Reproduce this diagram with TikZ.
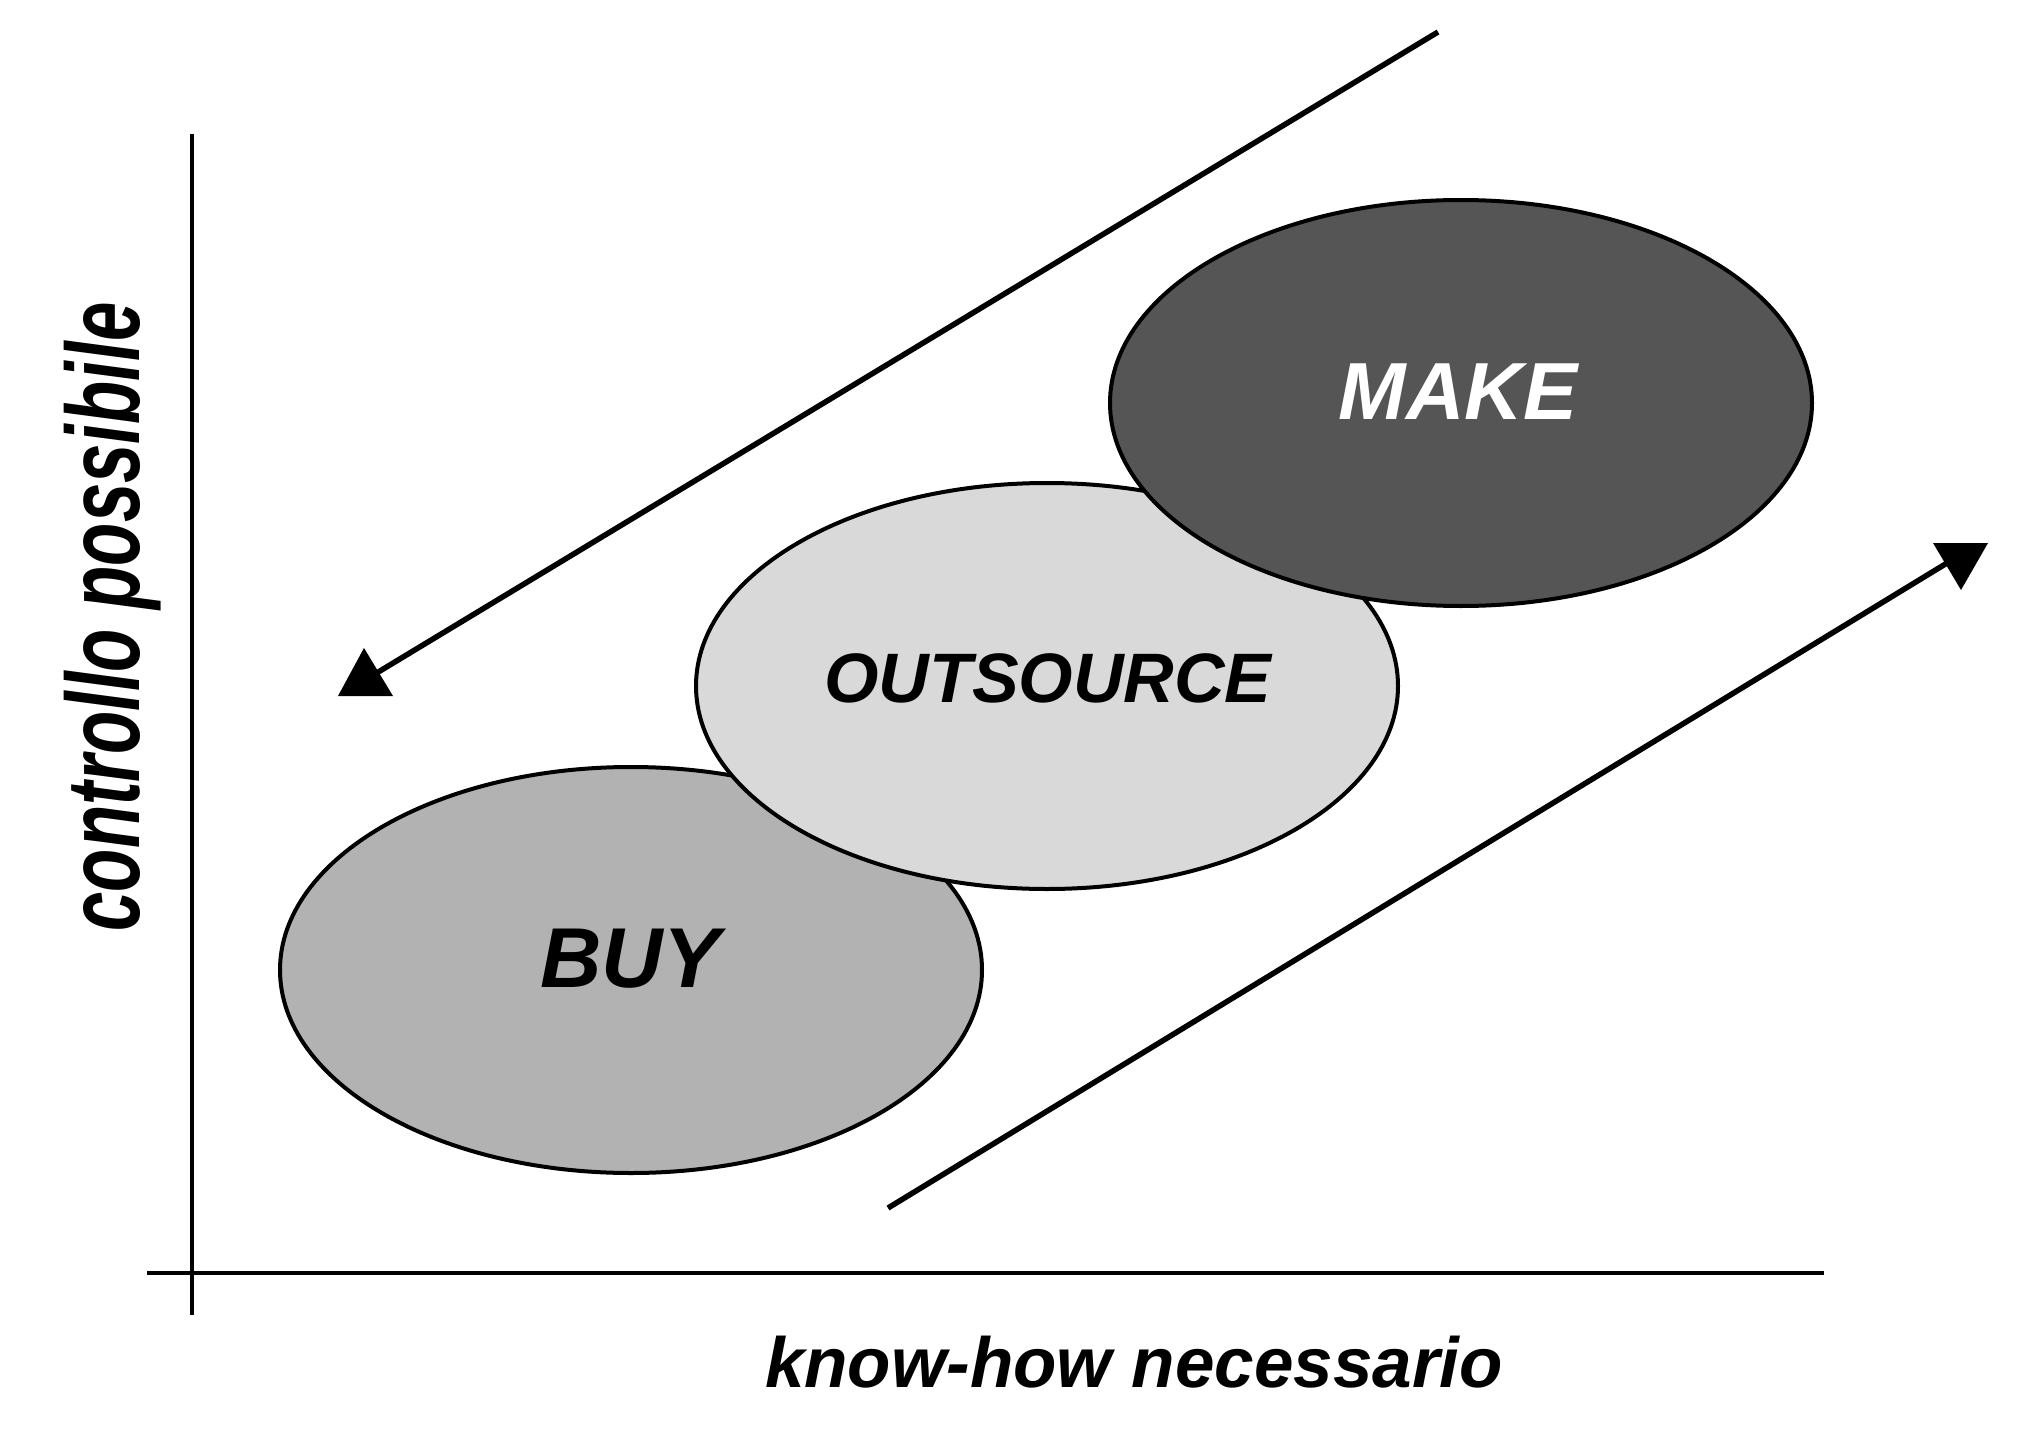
\documentclass[tikz,border=0pt]{standalone}
\usepackage{fontspec}
\setmainfont{Liberation Sans}
\usepackage{graphicx}
\usetikzlibrary{shapes.geometric}
\definecolor{buyfill}{HTML}{B2B2B2}
\definecolor{outfill}{HTML}{D9D9D9}
\definecolor{makefill}{HTML}{555555}
\begin{document}
\begin{tikzpicture}[x=0.5pt,y=-0.5pt,
    blob/.style={ellipse,draw,line width=2pt,minimum width=351pt,minimum height=203pt,inner sep=0pt},
    word/.style={font=\bfseries\itshape\fontsize{#1}{#1}\selectfont}]
      \useasboundingbox (0,0) rectangle (2036,1445);
      % axes
      \coordinate (ytop) at (192,134);
      \coordinate (ybot) at (192,1315);
      \coordinate (xleft) at (147,1273);
      \coordinate (xright) at (1824,1273);
      \draw[line width=2pt] (ytop) -- (ybot);
      \draw[line width=2pt] (xleft) -- (xright);
      % the three options
      \node[blob,fill=buyfill] (buy) at (631,970) {};
      \node[blob,fill=outfill] (out) at (1047,686) {};
      \node[blob,fill=makefill] (make) at (1461,403) {};
      \node[word=42.5pt] (buytxt) at (630,959) {BUY};
      \node[word=35pt] (outtxt) at (1048,678) {OUTSOURCE};
      \node[word=40.5pt,white] (maketxt) at (1458,392) {MAKE};
      % trend arrows
      \coordinate (downstart) at (1438,32);
      \coordinate (downend) at (370,677);
      \coordinate (upstart) at (888,1208);
      \coordinate (upend) at (1952,560);
      \draw[line width=2.75pt] (downstart) -- (downend);
      \draw[line width=2.75pt] (upstart) -- (upend);
      \fill (364,648) -- (338,696) -- (393,696) -- cycle;
      \fill (1933,543) -- (1988,543) -- (1961,590) -- cycle;
      % axis labels
      \node[word=35.5pt,anchor=base] (xlbl) at (1134,1387) {know-how necessario};
      \node[word=52pt,rotate=90,anchor=base] (ylbl) at (139,617) {\scalebox{0.68}[1]{controllo possibile}};
\end{tikzpicture}
\end{document}
